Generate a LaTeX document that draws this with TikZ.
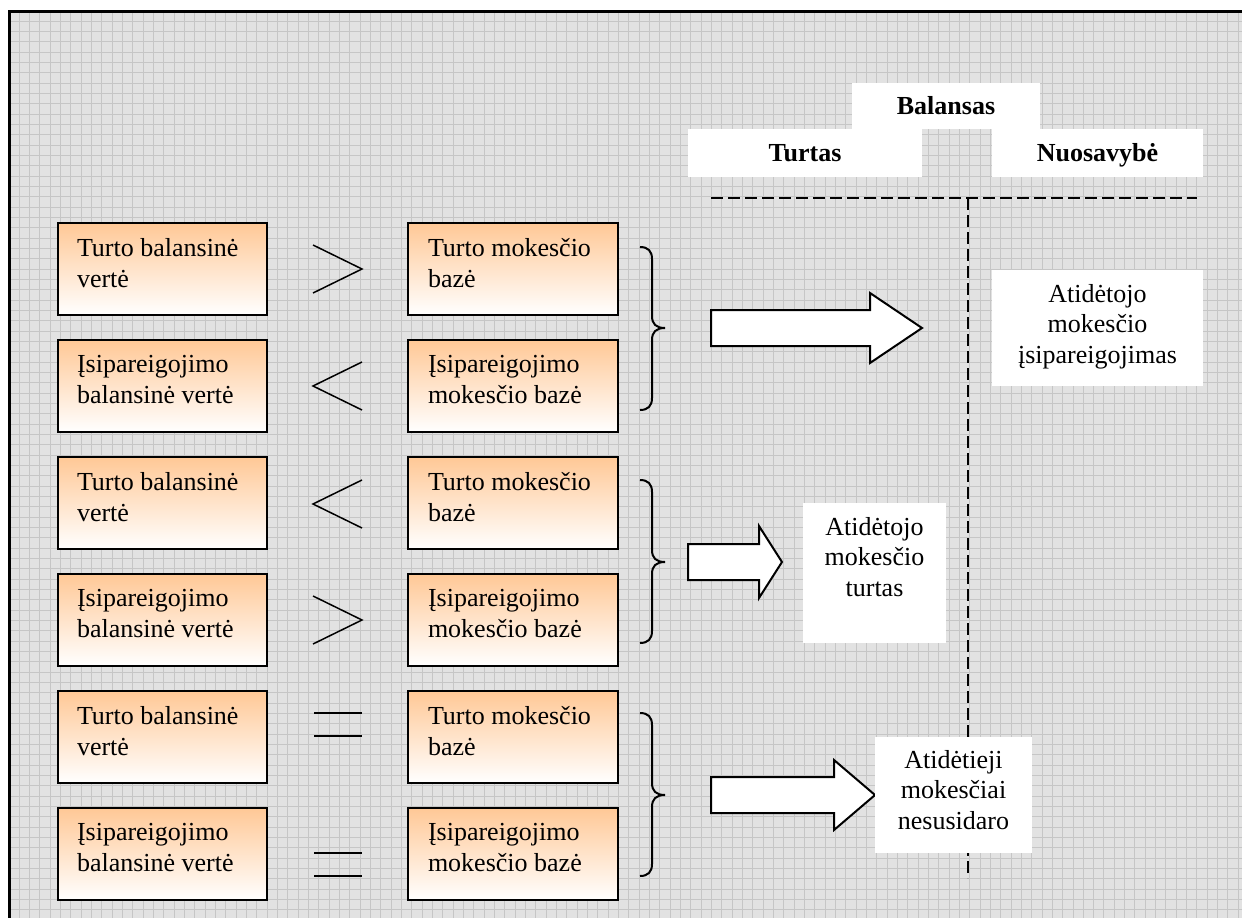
\documentclass[tikz,border=0pt]{standalone}
\usepackage{fontspec}
\setmainfont{Liberation Serif}
\definecolor{canvasbg}{RGB}{226,226,226}
\definecolor{gridline}{RGB}{198,198,198}
\definecolor{peach}{RGB}{255,200,150}
\newcommand\assetval{Turto balansinė\\vertė}
\newcommand\assetbase{Turto mokesčio\\bazė}
\newcommand\liabval{Įsipareigojimo\\balansinė vertė}
\newcommand\liabbase{Įsipareigojimo\\mokesčio bazė}
\begin{document}
\begin{tikzpicture}[x=1pt,y=-1pt,
  every node/.style={inner sep=0pt,outer sep=0pt},
  valbox/.style={draw=black,line width=2pt,top color=peach,bottom color=white,
    minimum width=209pt,minimum height=92pt,anchor=north west},
  valtext/.style={font=\fontsize{26}{31}\selectfont,anchor=north west,align=left},
  whitebox/.style={fill=white,anchor=north west},
  headbox/.style={fill=white,font=\fontsize{26}{31}\selectfont\bfseries,
    text height=17pt,text depth=0pt},
  restext/.style={font=\fontsize{26}{30.5}\selectfont,align=center,anchor=north},
  cmp/.style={line width=1.5pt},
  eqline/.style={line width=2pt},
  bracestroke/.style={line width=2pt},
  blockarrow/.style={draw=black,fill=white,line width=2pt,line join=miter},
  split/.style={line width=2pt,dash pattern=on 12pt off 5pt}
]
\useasboundingbox (0,0) rectangle (1242,918);

% canvas with fine grid
\fill[canvasbg] (9,11) rectangle (1242,918);
\foreach \k in {1,...,119}
  \draw[gridline,line width=1pt] ({9+10.33*\k},11) -- ({9+10.33*\k},918);
\foreach \k in {1,...,88}
  \draw[gridline,line width=1pt] (9,{11+10.33*\k}) -- (1242,{11+10.33*\k});
\draw[line width=3pt] (9.5,918) -- (9.5,11) -- (1242,11);

% balance sheet header
\node[headbox,minimum width=188pt,minimum height=46pt] (bal) at (946,106) {Balansas};
\node[headbox,minimum width=234pt,minimum height=48pt] (assets) at (805,153) {Turtas};
\node[headbox,minimum width=211pt,minimum height=48pt] (equity) at (1097.5,153) {Nuosavybė};

% dashed T dividing the balance sheet
\coordinate (hl) at (711,198);
\coordinate (hr) at (1197,198);
\coordinate (vt) at (968,198);
\coordinate (vb) at (968,878);
\draw[split] (hl) -- (hr);
\draw[split] (vt) -- (vb);

% comparison boxes
\foreach \n/\top in {1/223,3/457,5/691}{
  \node[valbox] (L\n) at (58,\top) {};
  \node[valtext] (L\n t) at ([shift={(19,15)}]L\n.north west) {\assetval};
  \node[valbox,minimum width=210pt] (R\n) at (408,\top) {};
  \node[valtext] (R\n t) at ([shift={(20,15)}]R\n.north west) {\assetbase};
}
\foreach \n/\top in {2/340,4/574,6/808}{
  \node[valbox] (L\n) at (58,\top) {};
  \node[valtext] (L\n t) at ([shift={(19,15)}]L\n.north west) {\liabval};
  \node[valbox,minimum width=210pt] (R\n) at (408,\top) {};
  \node[valtext] (R\n t) at ([shift={(20,15)}]R\n.north west) {\liabbase};
}

% relation signs
\foreach \c in {269,620}
  \draw[cmp] (313,\c-24) -- (362,\c) -- (313,\c+24);
\foreach \c in {386,504}
  \draw[cmp] (362,\c-24) -- (313,\c) -- (362,\c+24);
\draw[eqline] (314,713) -- (362,713);
\draw[eqline] (314,736) -- (362,736);
\draw[eqline] (314,853) -- (362,853);
\draw[eqline] (314,876) -- (362,876);

% curly braces grouping each pair of rows
\foreach \t/\m/\b in {247/328/410,480/562/643,713/795/876}
  \draw[bracestroke] (640,\t) .. controls (648,\t) and (652,\t+4) .. (652,\t+12)
    -- (652,\m-12) .. controls (652,\m-4) and (656,\m) .. (665,\m)
    .. controls (656,\m) and (652,\m+4) .. (652,\m+12)
    -- (652,\b-12) .. controls (652,\b-4) and (648,\b) .. (640,\b);

% block arrows
\draw[blockarrow] (711,310) -- (870,310) -- (870,293) -- (922,328)
  -- (870,363) -- (870,346) -- (711,346) -- cycle;
\draw[blockarrow] (688,544) -- (759,544) -- (759,526) -- (782,562)
  -- (759,598) -- (759,580) -- (688,580) -- cycle;
\draw[blockarrow] (711,777) -- (834,777) -- (834,760) -- (875,795)
  -- (834,830) -- (834,813) -- (711,813) -- cycle;

% results
\node[whitebox,minimum width=211pt,minimum height=116pt] (dtl) at (992,270) {};
\node[restext] (dtl t) at ([shift={(0,14)}]dtl.north) {Atidėtojo\\mokesčio\\įsipareigojimas};
\node[whitebox,minimum width=143pt,minimum height=140pt] (dta) at (803,503) {};
\node[restext] (dta t) at ([shift={(0,14)}]dta.north) {Atidėtojo\\mokesčio\\turtas};
\node[whitebox,minimum width=157pt,minimum height=116pt] (none) at (875,737) {};
\node[restext] (none t) at ([shift={(0,13)}]none.north) {Atidėtieji\\mokesčiai\\nesusidaro};
\end{tikzpicture}
\end{document}
